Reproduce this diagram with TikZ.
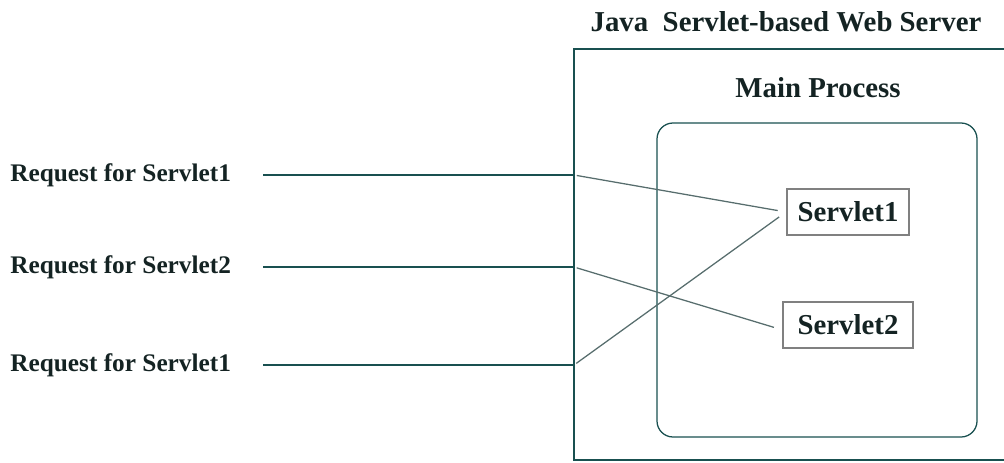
\documentclass[tikz,border=0pt]{standalone}
\usepackage{fontspec}
\setmainfont{Liberation Serif}
\usetikzlibrary{positioning}

\definecolor{tealline}{RGB}{25,80,80}
\definecolor{greyline}{RGB}{128,128,128}
\definecolor{inktext}{RGB}{20,35,35}

\tikzset{
  reqlabel/.style={anchor=west,inner sep=0pt,text=inktext,font=\bfseries\fontsize{18}{20}\selectfont},
  title/.style={inner sep=0pt,text=inktext,font=\bfseries\fontsize{20.5}{22}\selectfont},
  servletbox/.style={draw=greyline,line width=1.4pt,minimum width=3.05cm,minimum height=1.13cm,
    inner sep=0pt,text=inktext,font=\bfseries\fontsize{20.5}{22}\selectfont},
  feed/.style={tealline,line width=0.9pt,shorten <=0.8cm},
  route/.style={greyline!60!tealline,line width=0.9pt,shorten <=2pt,shorten >=6pt}
}

\begin{document}
\begin{tikzpicture}[x=0.025cm,y=-0.025cm]
\useasboundingbox (0,0) rectangle (1004,462);
\clip (0,0) rectangle (1004,462);

% server and main process
\draw[tealline,line width=0.9pt] (574,49) rectangle (1020,460);
\draw[tealline,line width=0.9pt,rounded corners=0.4cm] (657,123) rectangle (977,437);
\node[title] (server) at (786,22) {Java\ \ Servlet-based Web Server};
\node[title] (main) at (818,88) {Main Process};

\node[servletbox] (s1) at (848,212) {Servlet1};
\node[servletbox,minimum width=3.25cm] (s2) at (848,325) {Servlet2};

% requests
\node[reqlabel] (r1) at (10,175) {Request for Servlet1};
\node[reqlabel] (r2) at (10,267) {Request for Servlet2};
\node[reqlabel] (r3) at (10,365) {Request for Servlet1};

\foreach \i/\y in {1/175,2/267,3/365}
  \coordinate (in\i) at (574,\y);

\foreach \i in {1,2,3}
  \draw[feed] (r\i.east) -- (in\i);

\draw[route] (in1) -- (s1.west);
\draw[route] (in2) -- ([yshift=-0.12cm]s2.west);
\draw[route] (in3) -- (s1.west);
\end{tikzpicture}
\end{document}
